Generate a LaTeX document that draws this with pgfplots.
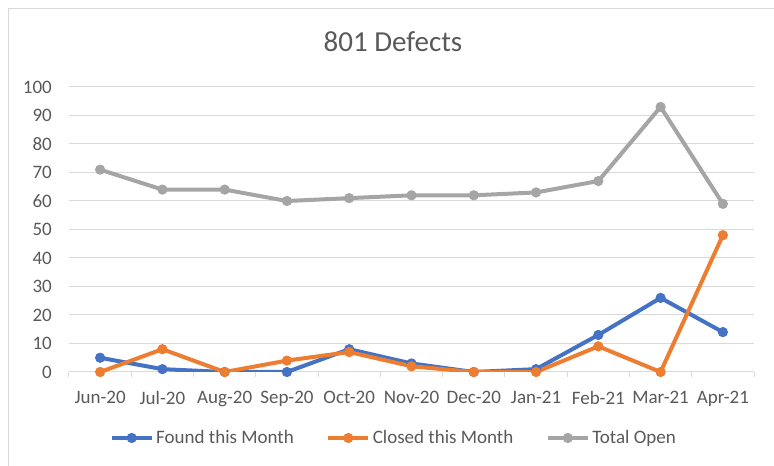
\documentclass[border=0pt]{standalone}
\usepackage{fontspec}
\setmainfont{Carlito}
\usepackage{pgfplots}
\pgfplotsset{compat=1.18}
\definecolor{cBlue}{HTML}{4472C4}
\definecolor{cOrange}{HTML}{ED7D31}
\definecolor{cGray}{HTML}{A5A5A5}
\definecolor{txt}{HTML}{595959}
\definecolor{gridc}{HTML}{D9D9D9}

\begin{document}
\begin{tikzpicture}[x=1pt,y=1pt]
  \path[use as bounding box] (0,0) rectangle (774,466);
  \draw[gridc,line width=1pt] (8,0) -- (8,457) -- (774,457);
  \node[txt,font=\fontsize{29}{34}\selectfont,anchor=base] at (393,414) {801 Defects};
  \begin{axis}[
    at={(69pt,94pt)},anchor=south west,scale only axis,width=685pt,height=285pt,
    xmin=-0.5,xmax=10.5,ymin=0,ymax=100,
    axis line style={draw=none},
    xtick={0,...,10},
    xticklabels={Jun-20,Jul-20,Aug-20,Sep-20,Oct-20,Nov-20,Dec-20,Jan-21,Feb-21,Mar-21,Apr-21},
    ytick={0,10,...,100},
    ymajorgrids,grid style={gridc,line width=1pt},
    major tick length=0pt,
    xtick pos=bottom,ytick pos=left,
    extra x ticks={-0.5,0.5,...,10.5},extra x tick labels={},
    extra x tick style={grid=none,tick align=outside,major tick length=5pt,
      tick style={gridc,line width=1pt}},
    tick label style={txt,font=\fontsize{19}{22}\selectfont,inner sep=0pt},
    xticklabel style={anchor=north,yshift=-19pt},
    yticklabel style={anchor=east,xshift=-17pt},
    /pgf/number format/assume math mode=true,
    legend columns=3,
    legend style={at={(0.4745,-0.2316)},anchor=center,draw=none,fill=none,
      font=\fontsize{19}{22}\selectfont,text=txt,
      /tikz/every even column/.append style={column sep=30pt},
      nodes={inner sep=2.5pt}},
    legend image code/.code={
      \draw[mark repeat=2,mark phase=2,#1] plot coordinates {(0pt,0pt) (20pt,0pt) (40pt,0pt)};},
    every axis plot/.append style={line width=4pt,line join=round,mark=*,mark size=4.6pt},
  ]
    \addplot[cBlue,mark options={fill=cBlue,line width=1pt}] coordinates
      {(0,5) (1,1) (2,0) (3,0) (4,8) (5,3) (6,0) (7,1) (8,13) (9,26) (10,14)};
    \addplot[cOrange,mark options={fill=cOrange,line width=1pt}] coordinates
      {(0,0) (1,8) (2,0) (3,4) (4,7) (5,2) (6,0) (7,0) (8,9) (9,0) (10,48)};
    \addplot[cGray,mark options={fill=cGray,line width=1pt}] coordinates
      {(0,71) (1,64) (2,64) (3,60) (4,61) (5,62) (6,62) (7,63) (8,67) (9,93) (10,59)};
    \legend{Found this Month,Closed this Month,Total Open}
  \end{axis}
\end{tikzpicture}
\end{document}
